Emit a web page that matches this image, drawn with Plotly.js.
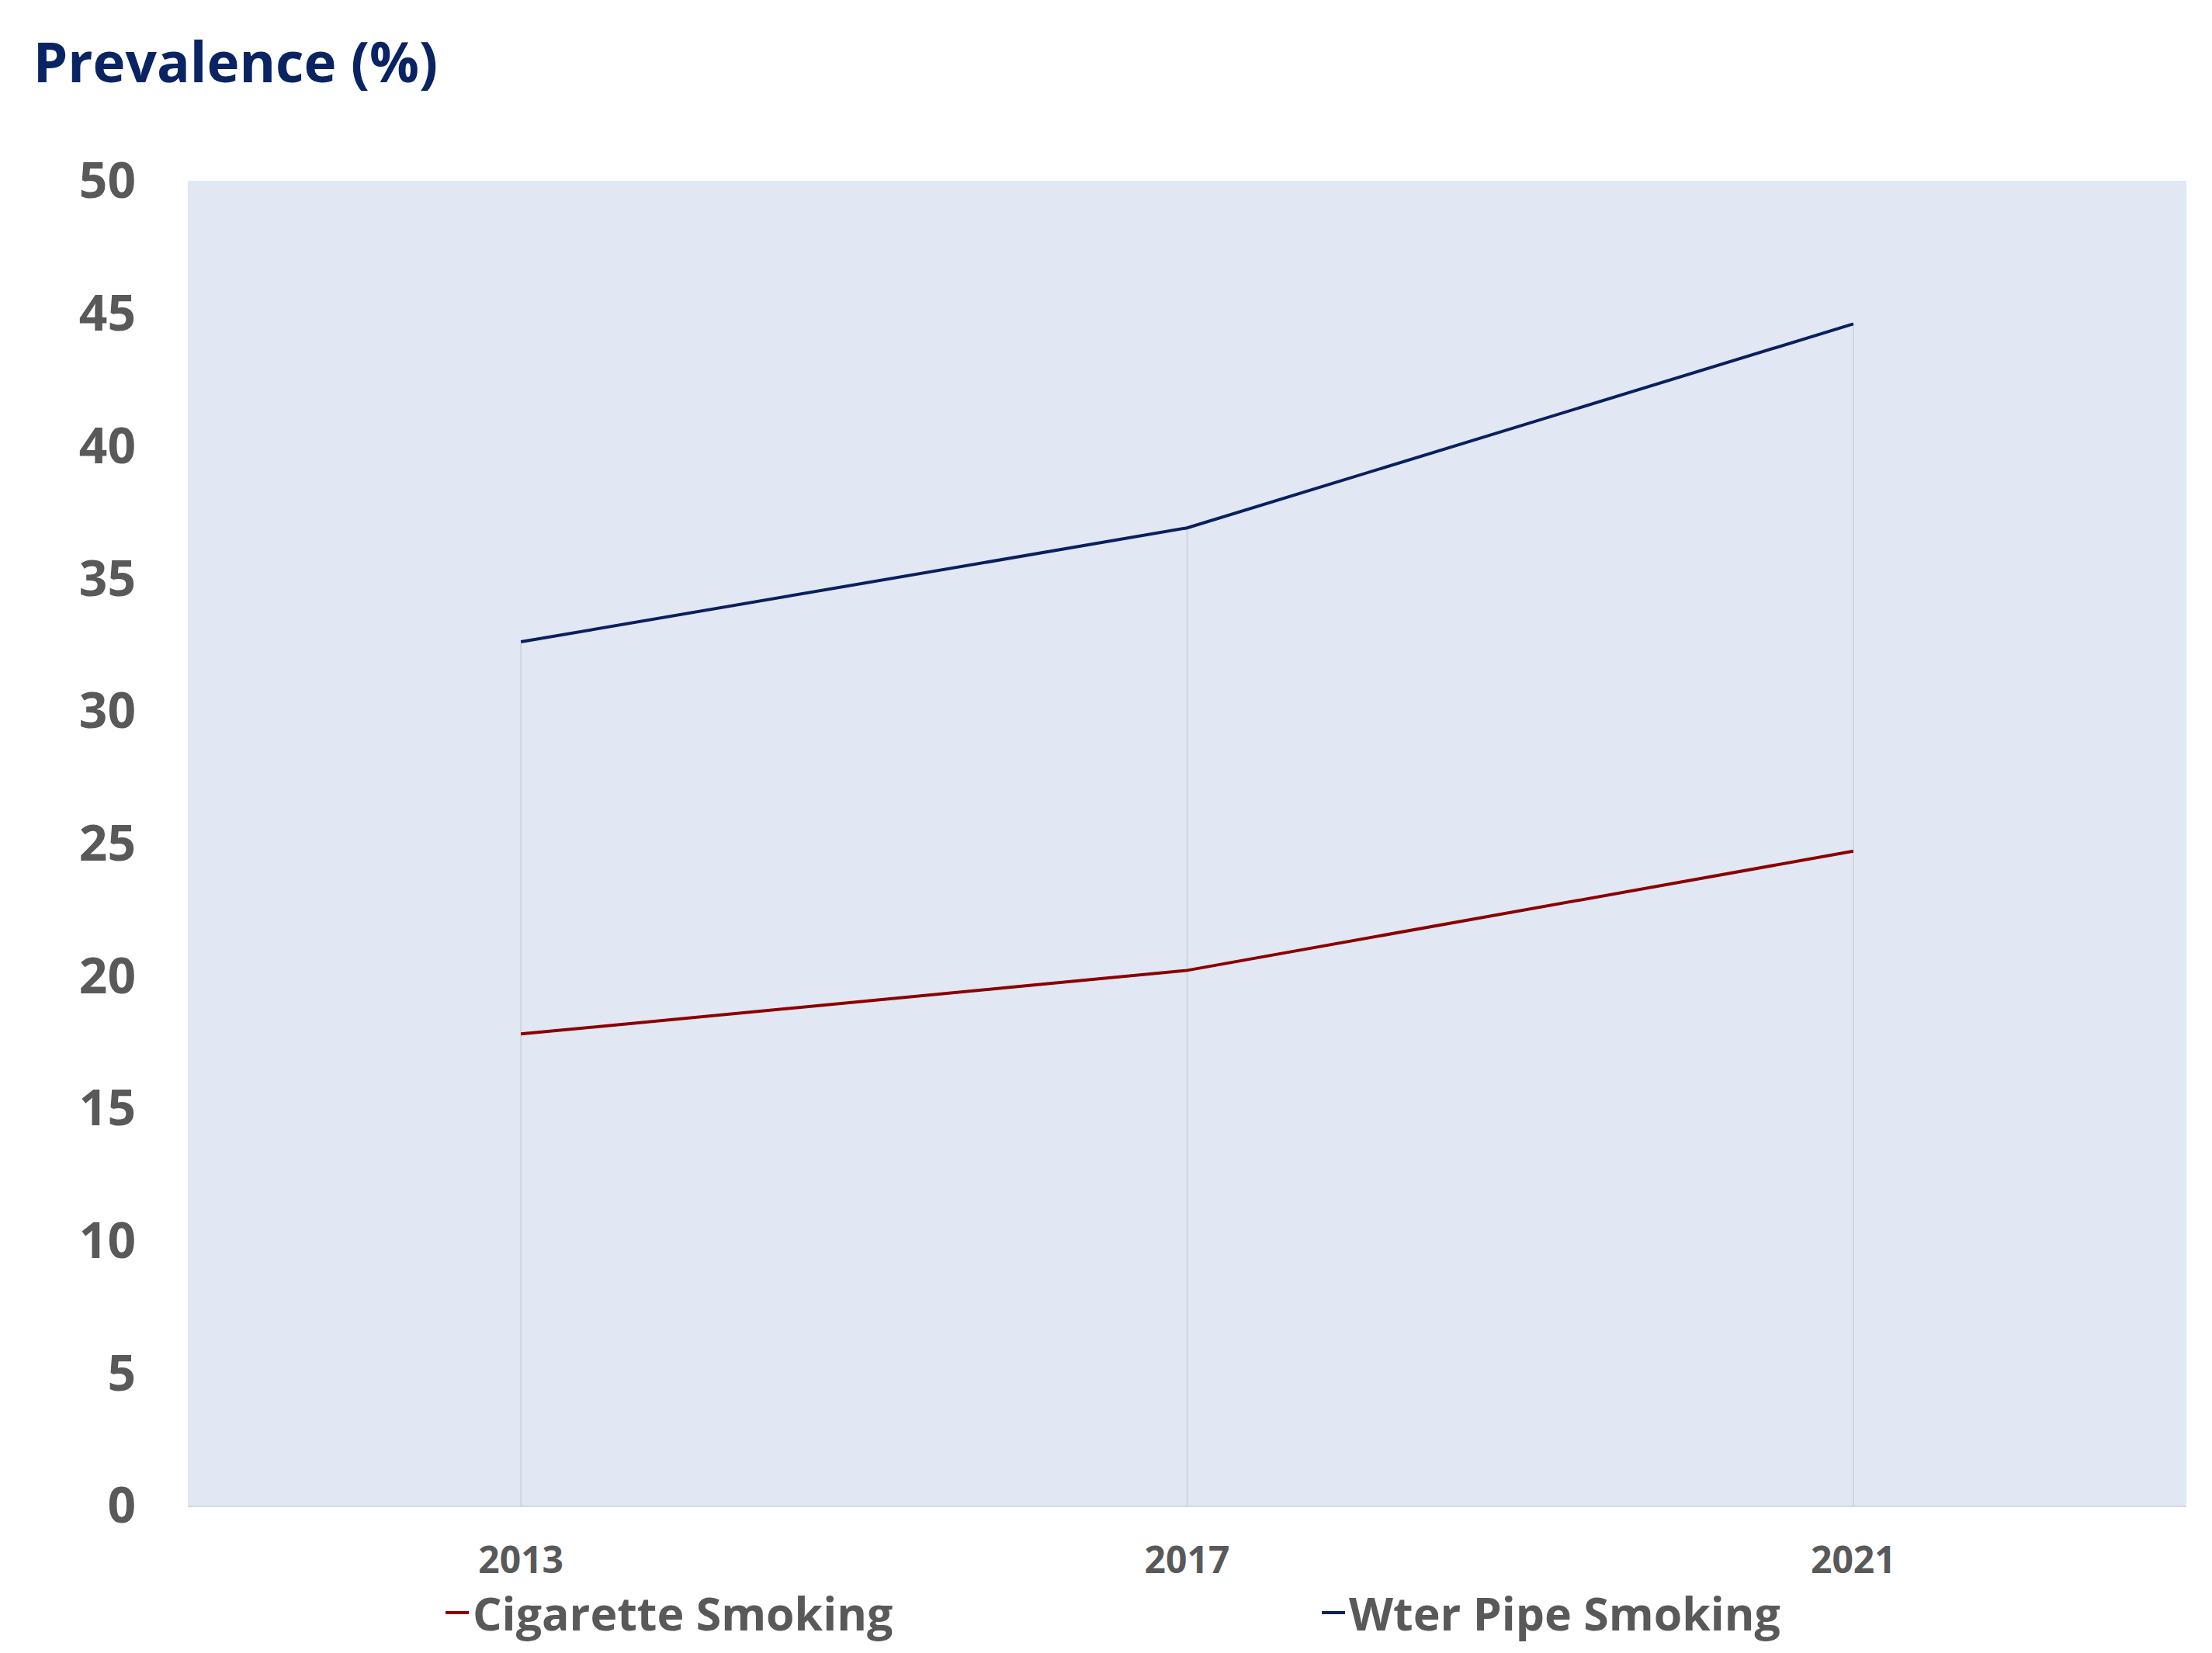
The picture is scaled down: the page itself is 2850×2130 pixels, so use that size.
<!DOCTYPE html>
<html>
<head>
<meta charset="utf-8">
<script src="https://cdn.plot.ly/plotly-3.0.1.min.js"></script>
<style>html,body{margin:0;padding:0;background:#fff;}#chart{width:2850px;height:2130px;}</style>
</head>
<body>
<div id="chart"></div>
<script>
const years = ["2013", "2017", "2021"];
const cigaretteSmoking = [17.8, 20.2, 24.7];
const waterPipeSmoking = [32.6, 36.9, 44.6];
const seriesNames = ["Cigarette Smoking", "Wter Pipe Smoking"];
const yTicks = [0, 5, 10, 15, 20, 25, 30, 35, 40, 45, 50];

// Drop lines (from the highest series value down to the axis), drawn beneath the series
const dropTop = years.map((_, i) => Math.max(cigaretteSmoking[i], waterPipeSmoking[i]));

const traces = [
  {x: years, y: dropTop, type: 'scatter', mode: 'lines', showlegend: false, hoverinfo: 'skip',
   line: {color: 'rgba(0,0,0,0)', width: 0},
   error_y: {type: 'data', symmetric: false, array: [0, 0, 0], arrayminus: dropTop,
             color: '#CBD0DA', thickness: 1.6, width: 0}},
  {x: years, y: cigaretteSmoking, name: seriesNames[0], type: 'scatter', mode: 'lines',
   line: {color: '#8B0000', width: 4}},
  {x: years, y: waterPipeSmoking, name: seriesNames[1], type: 'scatter', mode: 'lines',
   line: {color: '#0A1F5E', width: 4}}
];

const layout = {
  width: 2850, height: 2130,
  paper_bgcolor: '#ffffff',
  plot_bgcolor: '#E1E8F4',
  margin: {l: 242, r: 33, t: 233, b: 190, autoexpand: false},
  title: {text: '<b>Prevalence (%)</b>', x: 0.015, xanchor: 'left', xref: 'container',
          y: 0.962, yanchor: 'middle', yref: 'container',
          font: {family: 'Open Sans, DejaVu Sans, sans-serif', size: 71, color: '#0A2463'}},
  xaxis: {type: 'category', range: [-0.5, 2.5], showgrid: false,
          zeroline: false, showline: true, linecolor: '#D6D9DF', linewidth: 2,
          ticks: '', ticklabelstandoff: 27,
          tickfont: {family: 'Liberation Sans Narrow, Open Sans, sans-serif', size: 48, color: '#595959', weight: 'bold'}},
  yaxis: {range: [0, 50], tickvals: yTicks, showgrid: false, zeroline: false, showline: false,
          ticks: '', ticklabelstandoff: 66,
          tickfont: {family: 'Open Sans, DejaVu Sans, sans-serif', size: 64, color: '#595959', weight: 'bold'}},
  showlegend: true,
  legend: {orientation: 'h', x: 0.127, xanchor: 'left', y: -0.081, yanchor: 'middle',
           entrywidth: 1084, entrywidthmode: 'pixels', itemwidth: 30,
           font: {family: 'Liberation Sans Narrow, Open Sans, sans-serif', size: 59, color: '#595959', weight: 'bold'},
           bgcolor: 'rgba(0,0,0,0)'}
};

Plotly.newPlot('chart', traces, layout, {displayModeBar: false, staticPlot: true});
</script>
</body>
</html>
